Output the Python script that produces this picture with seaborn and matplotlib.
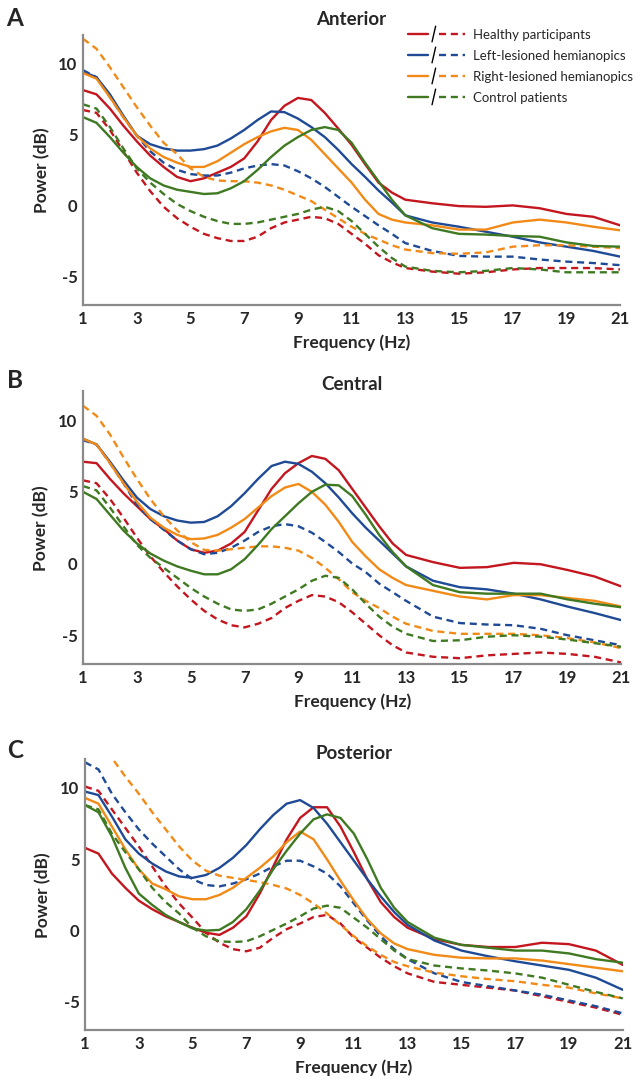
import pandas as pd
import matplotlib
matplotlib.use("Agg")
import matplotlib.pyplot as plt
import seaborn as sns
from matplotlib.legend_handler import HandlerBase
from matplotlib.lines import Line2D

# frequency grid (Hz)
freqs = [1, 1.5, 2, 2.5, 3, 3.5, 4, 4.5, 5, 5.5, 6, 6.5, 7, 7.5, 8, 8.5, 9, 9.5,
         10, 10.5, 11, 11.5, 12, 12.5, 13, 14, 15, 16, 17, 18, 19, 20, 21]

groups = ["Healthy participants", "Left-lesioned hemianopics",
          "Right-lesioned hemianopics", "Control patients"]
colors = ["#C3161F", "#1F4A96", "#F28A17", "#3F7A22"]

# Anterior
a_healthy_solid = [8.1, 7.8, 6.8, 5.6, 4.5, 3.5, 2.7, 2.0, 1.7, 1.9, 2.3, 2.7, 3.3, 4.5, 6.0, 7.0, 7.55, 7.4, 6.5, 5.4, 4.25, 2.9, 1.6, 0.9, 0.4,
                   0.15, -0.05, -0.1, 0.0, -0.2, -0.6, -0.8, -1.4]
a_healthy_dash = [6.7, 6.5, 5.3, 3.8, 2.3, 1.0, -0.1, -0.9, -1.5, -2.0, -2.3, -2.5, -2.5, -2.2, -1.6, -1.2, -1.0, -0.8, -0.9, -1.3, -2.0, -2.7, -3.5, -4.0, -4.4,
                  -4.65, -4.8, -4.7, -4.5, -4.4, -4.4, -4.4, -4.5]
a_left_solid = [9.4, 9.0, 7.8, 6.3, 4.9, 4.3, 4.0, 3.85, 3.85, 3.95, 4.2, 4.7, 5.3, 6.0, 6.6, 6.55, 6.1, 5.5, 4.8, 3.9, 2.9, 2.0, 1.05, 0.2, -0.7,
                -1.2, -1.5, -1.85, -2.2, -2.6, -2.9, -3.2, -3.6]
a_left_dash = [9.5, 9.0, 7.6, 6.2, 4.9, 3.8, 3.0, 2.5, 2.2, 2.1, 2.1, 2.3, 2.6, 2.8, 2.9, 2.8, 2.4, 1.9, 1.3, 0.6, -0.1, -0.75, -1.4, -2.0, -2.65,
               -3.2, -3.55, -3.6, -3.6, -3.8, -3.95, -4.05, -4.2]
a_right_solid = [9.3, 8.9, 7.6, 6.2, 4.9, 4.0, 3.4, 3.0, 2.7, 2.7, 3.1, 3.7, 4.3, 4.8, 5.2, 5.45, 5.3, 4.6, 3.6, 2.6, 1.6, 0.4, -0.6, -1.0, -1.2,
                 -1.4, -1.7, -1.7, -1.2, -1.0, -1.2, -1.5, -1.75]
a_right_dash = [11.7, 11.0, 9.7, 8.3, 6.9, 5.6, 4.4, 3.6, 2.6, 2.0, 1.75, 1.7, 1.7, 1.6, 1.4, 1.1, 0.7, 0.3, -0.3, -0.9, -1.5, -2.0, -2.4, -2.8, -3.1,
                -3.35, -3.4, -3.3, -2.9, -2.8, -2.8, -2.9, -3.0]
a_ctrl_solid = [6.2, 5.8, 4.8, 3.7, 2.7, 1.9, 1.4, 1.1, 0.95, 0.8, 0.85, 1.2, 1.7, 2.5, 3.4, 4.2, 4.8, 5.3, 5.5, 5.3, 4.4, 3.0, 1.7, 0.4, -0.7,
                -1.6, -2.0, -2.05, -2.15, -2.2, -2.6, -2.85, -2.9]
a_ctrl_dash = [7.1, 6.8, 5.5, 4.0, 2.6, 1.6, 0.8, 0.1, -0.4, -0.8, -1.1, -1.3, -1.3, -1.2, -1.0, -0.8, -0.6, -0.3, -0.1, -0.4, -1.1, -2.0, -2.9, -3.7, -4.3,
               -4.6, -4.7, -4.6, -4.4, -4.5, -4.7, -4.7, -4.7]

# Central
b_healthy_solid = [7.1, 7.0, 5.9, 4.9, 4.0, 3.1, 2.4, 1.6, 1.0, 0.75, 0.9, 1.4, 2.2, 3.7, 5.2, 6.3, 7.0, 7.5, 7.3, 6.5, 5.2, 3.9, 2.6, 1.4, 0.6,
                   0.1, -0.3, -0.25, 0.05, -0.05, -0.45, -0.9, -1.6]
b_healthy_dash = [5.8, 5.6, 4.5, 3.2, 1.8, 0.5, -0.6, -1.6, -2.5, -3.3, -3.9, -4.3, -4.45, -4.2, -3.8, -3.1, -2.6, -2.2, -2.3, -2.7, -3.4, -4.2, -5.0, -5.7, -6.2,
                  -6.5, -6.6, -6.4, -6.3, -6.2, -6.3, -6.5, -6.9]
b_left_solid = [8.7, 8.3, 7.1, 5.8, 4.6, 3.8, 3.3, 3.0, 2.85, 2.9, 3.3, 4.0, 4.9, 5.9, 6.8, 7.1, 6.95, 6.4, 5.6, 4.6, 3.5, 2.5, 1.6, 0.7, -0.2,
                -1.2, -1.65, -1.8, -2.1, -2.5, -3.0, -3.45, -3.95]
b_left_dash = [8.6, 8.3, 7.0, 5.6, 4.1, 3.1, 2.35, 1.6, 1.0, 0.65, 0.75, 1.1, 1.6, 2.2, 2.6, 2.75, 2.6, 2.15, 1.5, 0.8, 0.0, -0.6, -1.4, -2.0, -2.6,
               -3.7, -4.15, -4.25, -4.3, -4.55, -5.0, -5.35, -5.7]
b_right_solid = [8.7, 8.3, 7.0, 5.6, 4.3, 3.2, 2.5, 2.0, 1.7, 1.75, 2.0, 2.5, 3.1, 3.9, 4.7, 5.3, 5.55, 5.0, 4.1, 2.9, 1.5, 0.5, -0.4, -1.0, -1.5,
                 -1.9, -2.3, -2.5, -2.2, -2.2, -2.4, -2.6, -3.0]
b_right_dash = [11.0, 10.3, 9.0, 7.4, 5.9, 4.5, 3.3, 2.3, 1.5, 0.95, 0.9, 1.0, 1.1, 1.2, 1.2, 1.1, 0.9, 0.4, -0.3, -1.1, -2.0, -2.6, -3.1, -3.7, -4.2,
                -4.7, -4.9, -4.9, -4.9, -5.0, -5.2, -5.5, -5.9]
b_ctrl_solid = [5.0, 4.5, 3.4, 2.3, 1.4, 0.7, 0.2, -0.2, -0.5, -0.75, -0.75, -0.4, 0.3, 1.3, 2.4, 3.3, 4.2, 5.0, 5.5, 5.45, 4.7, 3.4, 2.0, 0.8, -0.2,
                -1.5, -2.0, -2.1, -2.1, -2.1, -2.5, -2.8, -3.05]
b_ctrl_dash = [5.4, 5.1, 3.9, 2.6, 1.3, 0.4, -0.3, -1.0, -1.7, -2.3, -2.8, -3.2, -3.3, -3.2, -2.8, -2.3, -1.8, -1.2, -0.85, -1.0, -1.8, -2.8, -3.7, -4.4, -4.9,
               -5.4, -5.35, -5.1, -5.0, -5.1, -5.3, -5.55, -5.8]

# Posterior
c_healthy_solid = [5.8, 5.4, 4.0, 3.0, 2.1, 1.5, 1.0, 0.6, 0.2, -0.15, -0.3, 0.2, 1.0, 2.6, 4.5, 6.4, 7.9, 8.65, 8.65, 7.3, 5.5, 3.6, 2.0, 0.95, 0.2,
                   -0.6, -1.0, -1.15, -1.15, -0.85, -0.95, -1.4, -2.4]
c_healthy_dash = [10.1, 9.8, 8.5, 7.2, 5.9, 4.5, 3.1, 1.9, 0.9, -0.15, -0.85, -1.3, -1.45, -1.2, -0.5, 0.1, 0.5, 0.95, 1.1, 0.5, -0.5, -1.2, -1.9, -2.5, -3.0,
                  -3.6, -3.8, -4.0, -4.2, -4.6, -5.0, -5.4, -5.9]
c_left_solid = [9.75, 9.5, 8.0, 6.4, 5.4, 4.7, 4.15, 3.8, 3.7, 3.9, 4.4, 5.1, 6.0, 7.1, 8.1, 8.9, 9.15, 8.6, 7.5, 6.2, 4.9, 3.6, 2.4, 1.3, 0.4,
                -0.7, -1.4, -1.8, -2.15, -2.45, -2.75, -3.3, -4.15]
c_left_dash = [11.8, 11.3, 9.6, 8.3, 7.1, 6.1, 5.2, 4.3, 3.6, 3.2, 3.1, 3.3, 3.6, 4.0, 4.5, 4.9, 4.9, 4.5, 4.0, 3.1, 1.9, 0.7, -0.4, -1.3, -2.0,
               -3.0, -3.6, -3.9, -4.2, -4.5, -4.9, -5.3, -5.8]
c_right_solid = [9.3, 8.9, 7.3, 5.7, 4.3, 3.3, 2.9, 2.4, 2.2, 2.2, 2.5, 3.0, 3.7, 4.4, 5.2, 6.2, 6.95, 6.4, 5.0, 3.5, 2.1, 0.8, -0.2, -0.9, -1.3,
                 -1.7, -1.9, -1.95, -1.95, -2.1, -2.35, -2.6, -2.85]
c_right_dash = [14.5, 13.3, 12.1, 10.8, 9.6, 8.3, 7.1, 5.9, 4.9, 4.2, 3.85, 3.7, 3.55, 3.4, 3.2, 2.95, 2.5, 1.9, 1.2, 0.4, -0.4, -1.1, -1.7, -2.2, -2.5,
                -2.95, -3.2, -3.4, -3.55, -3.8, -4.0, -4.4, -4.75]
c_ctrl_solid = [8.8, 8.3, 6.6, 4.4, 2.6, 1.8, 1.1, 0.6, 0.15, 0.0, 0.05, 0.6, 1.5, 2.8, 4.3, 5.6, 6.8, 7.8, 8.15, 7.9, 6.8, 5.0, 3.0, 1.6, 0.6,
                -0.5, -1.0, -1.2, -1.4, -1.4, -1.6, -2.0, -2.25]
c_ctrl_dash = [8.8, 8.5, 6.8, 5.5, 4.3, 3.0, 2.0, 1.2, 0.2, -0.4, -0.75, -0.8, -0.75, -0.4, 0.05, 0.5, 1.0, 1.55, 1.75, 1.6, 0.9, 0.2, -0.6, -1.4, -2.0,
               -2.45, -2.65, -2.8, -3.0, -3.3, -3.8, -4.3, -4.75]

panels = [
    ("A", "Anterior", [a_healthy_solid, a_left_solid, a_right_solid, a_ctrl_solid],
     [a_healthy_dash, a_left_dash, a_right_dash, a_ctrl_dash]),
    ("B", "Central", [b_healthy_solid, b_left_solid, b_right_solid, b_ctrl_solid],
     [b_healthy_dash, b_left_dash, b_right_dash, b_ctrl_dash]),
    ("C", "Posterior", [c_healthy_solid, c_left_solid, c_right_solid, c_ctrl_solid],
     [c_healthy_dash, c_left_dash, c_right_dash, c_ctrl_dash]),
]

# axes boxes in figure fraction, letter y, title pad
boxes = [([0.129, 0.7186, 0.834, 0.2495], 1 - 18 / 1084, 7.0),
         ([0.129, 0.3875, 0.836, 0.2514], 1 - 380 / 1084, 1.0),
         ([0.132, 0.0494, 0.835, 0.2500], 1 - 750 / 1084, 0.5)]

DASH = (3, 2)
LW = 1.7


class SlashHandler(HandlerBase):
    # draws "solid / dashed" like the original legend
    def create_artists(self, legend, orig_handle, xdescent, ydescent,
                       width, height, fontsize, trans):
        solid, dashed = orig_handle
        y = height / 2 - ydescent
        x0 = -xdescent
        l1 = Line2D([x0, x0 + 0.36 * width], [y, y], color=solid.get_color(),
                    lw=LW, transform=trans)
        sx = x0 + 0.455 * width
        sl = Line2D([sx - 1.3, sx + 1.3], [y - 0.85 * height, y + 0.85 * height],
                    color="black", lw=1.0, transform=trans)
        l2 = Line2D([x0 + 0.55 * width, x0 + width], [y, y], color=dashed.get_color(),
                    lw=LW, linestyle=(0, DASH), transform=trans)
        return [l1, sl, l2]


sns.set_style("white")
plt.rcParams["font.family"] = ["Lato", "DejaVu Sans"]
plt.rcParams["axes.unicode_minus"] = False

fig = plt.figure(figsize=(6.44, 10.84), dpi=100)

for (letter, title, solids, dashes_), (box, ly, tpad) in zip(panels, boxes):
    rows = []
    for g, s, d in zip(groups, solids, dashes_):
        for f, v in zip(freqs, s):
            rows.append({"Frequency": f, "Power": v, "Group": g, "Type": "solid"})
        for f, v in zip(freqs, d):
            rows.append({"Frequency": f, "Power": v, "Group": g, "Type": "dashed"})
    df = pd.DataFrame(rows)

    ax = fig.add_axes(box)
    sns.lineplot(data=df, x="Frequency", y="Power", hue="Group", style="Type",
                 hue_order=groups, style_order=["solid", "dashed"],
                 palette=colors, dashes={"solid": "", "dashed": DASH},
                 estimator=None, sort=False, linewidth=LW, legend=False, ax=ax)

    ax.set_xlim(1, 21)
    ax.set_ylim(-7, 12)
    ax.set_xticks(range(1, 22, 2))
    ax.set_yticks([-5, 0, 5, 10])
    ax.tick_params(axis="both", direction="in", length=3, width=1, color="#808080",
                   labelsize=12, pad=4)
    for lab in ax.get_xticklabels() + ax.get_yticklabels():
        lab.set_fontweight("bold")
    for side in ["top", "right"]:
        ax.spines[side].set_visible(False)
    for side in ["left", "bottom"]:
        ax.spines[side].set_color("#8a8a8a")
        ax.spines[side].set_linewidth(1.6)

    ax.set_xlabel("Frequency (Hz)", fontsize=12.5, fontweight="bold")
    ax.set_ylabel("Power (dB)", fontsize=12.5, fontweight="bold")
    ax.xaxis.set_label_coords(0.5, -0.108)
    ax.yaxis.set_label_coords(-0.062, 0.5)
    ax.set_title(title, fontsize=13.5, fontweight="bold", pad=tpad)
    fig.text(15 / 644, ly, letter, fontsize=17.5, fontweight="bold", ha="center", va="center")

    if letter == "A":
        handles = []
        for c in colors:
            handles.append((Line2D([], [], color=c), Line2D([], [], color=c)))
        ax.legend(handles, groups, handler_map={tuple: SlashHandler()},
                  loc="upper left", bbox_to_anchor=(0.605, 1.022), frameon=False,
                  fontsize=9.5, handlelength=4.3, handletextpad=0.62,
                  labelspacing=0.68, borderaxespad=0, borderpad=0)

fig.savefig("out.png", dpi=100)
print("saved out.png")
